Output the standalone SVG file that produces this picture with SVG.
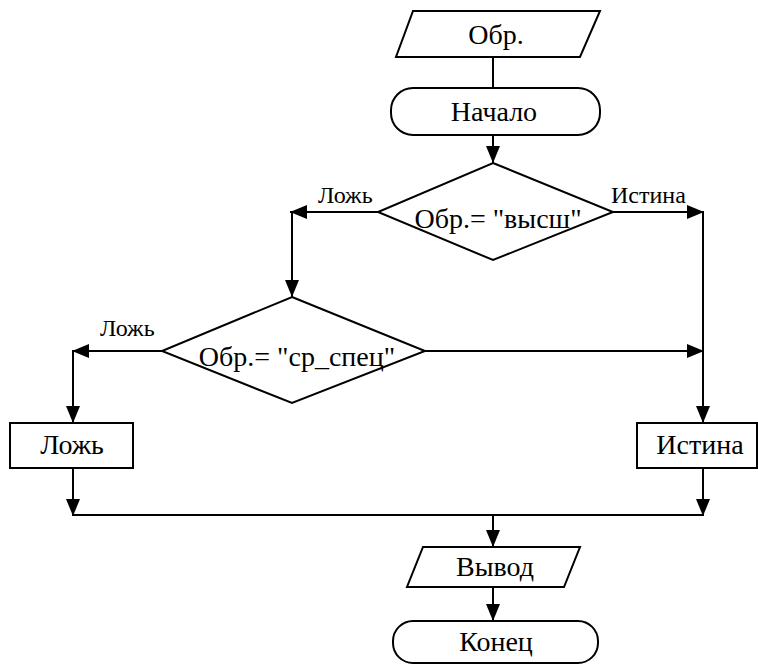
<svg xmlns="http://www.w3.org/2000/svg" width="758" height="666" viewBox="0 0 758 666">
<style>
.s{fill:#fff;stroke:#000;stroke-width:2}
.t{font-family:"Liberation Serif","Times New Roman","DejaVu Serif",serif;font-size:28px;fill:#000;text-anchor:middle}
.l{font-family:"Liberation Serif","Times New Roman","DejaVu Serif",serif;font-size:24px;fill:#000}
.c{fill:none;stroke:#000;stroke-width:2}
</style>
<defs>
<marker id="a" markerUnits="userSpaceOnUse" markerWidth="18" markerHeight="14" refX="17" refY="7" orient="auto">
<path d="M0,0 L17,7 L0,14 Z" fill="#000"/>
</marker>
</defs>
<g id="connectors">
<line class="c" x1="493" y1="57" x2="493" y2="88"/>
<line class="c" x1="493" y1="135" x2="493" y2="163" marker-end="url(#a)"/>
<line class="c" x1="378" y1="212" x2="290" y2="212" marker-end="url(#a)"/>
<line class="c" x1="292" y1="212" x2="292" y2="297" marker-end="url(#a)"/>
<line class="c" x1="613" y1="212" x2="704" y2="212" marker-end="url(#a)"/>
<line class="c" x1="703" y1="212" x2="703" y2="423" marker-end="url(#a)"/>
<line class="c" x1="162" y1="351" x2="72" y2="351" marker-end="url(#a)"/>
<line class="c" x1="73" y1="351" x2="73" y2="423" marker-end="url(#a)"/>
<line class="c" x1="425" y1="351" x2="704" y2="351" marker-end="url(#a)"/>
<line class="c" x1="73" y1="468" x2="73" y2="516" marker-end="url(#a)"/>
<line class="c" x1="703" y1="468" x2="703" y2="516" marker-end="url(#a)"/>
<line class="c" x1="73" y1="515" x2="703" y2="515"/>
<line class="c" x1="493" y1="515" x2="493" y2="547" marker-end="url(#a)"/>
<line class="c" x1="493" y1="587" x2="493" y2="621" marker-end="url(#a)"/>
<text class="l" x="318" y="203">Ложь</text>
<text class="l" x="611" y="203">Истина</text>
<text class="l" x="100" y="336">Ложь</text>
</g>
<g id="input">
<polygon class="s" points="413,11 600,11 580,57 396,57"/>
<text class="t" x="496" y="44">Обр.</text>
</g>
<g id="start">
<rect class="s" x="391" y="88" width="209" height="47" rx="22"/>
<text class="t" x="494" y="121">Начало</text>
</g>
<g id="cond1">
<polygon class="s" points="493,163 613,212 493,260 378,212"/>
<text class="t" x="498" y="228">Обр.= "высш"</text>
</g>
<g id="cond2">
<polygon class="s" points="292,297 425,351 292,403 162,351"/>
<text class="t" x="297" y="366">Обр.= "ср_спец"</text>
</g>
<g id="false">
<rect class="s" x="10" y="423" width="123" height="45"/>
<text class="t" x="72" y="454">Ложь</text>
</g>
<g id="true">
<rect class="s" x="637" y="423" width="120" height="45"/>
<text class="t" x="700" y="454">Истина</text>
</g>
<g id="output">
<polygon class="s" points="423,547 580,547 564,587 407,587"/>
<text class="t" x="495" y="576">Вывод</text>
</g>
<g id="end">
<rect class="s" x="393" y="621" width="205" height="42" rx="20"/>
<text class="t" x="496" y="651">Конец</text>
</g>
</svg>
